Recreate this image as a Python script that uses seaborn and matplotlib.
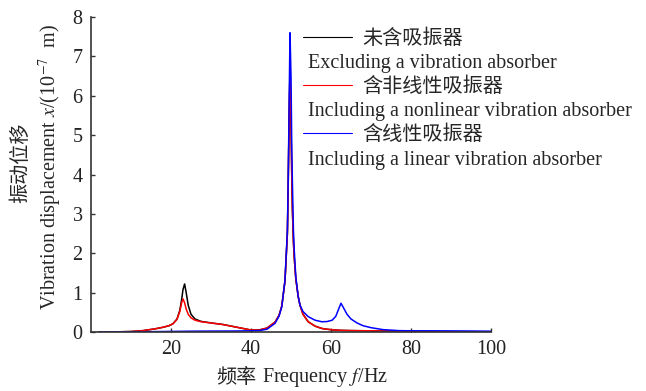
import numpy as np
import pandas as pd
import matplotlib
matplotlib.use('Agg')
import matplotlib.pyplot as plt
import seaborn as sns

# ---- data ----
freq = [2, 6, 10, 13, 16, 18, 19.5, 20.5, 21.5, 22.2, 22.7, 23.0, 23.4, 23.8, 24.3, 25, 26, 27.5,
        30, 33, 36, 38, 40, 42, 44, 46, 47, 47.7, 48.5, 49.1, 49.3, 49.5, 49.75, 50.0, 50.2, 50.35,
        50.6, 50.8, 51.2, 51.8, 52.25, 53, 54.3, 56, 57.7, 59, 60.3, 61.2, 61.9, 62.5, 63.1, 64, 65,
        66.5, 68, 70, 73, 77, 80, 85, 90, 95, 100]

x_none = [0.0, 0.003, 0.012, 0.035, 0.08, 0.12, 0.16, 0.21, 0.33, 0.55, 0.85, 1.08, 1.22, 1.0, 0.68,
          0.45, 0.33, 0.27, 0.23, 0.19, 0.13, 0.09, 0.05, 0.05, 0.1, 0.25, 0.42, 0.66, 1.3, 2.5, 3.7,
          5.2, 6.7, 5.3, 3.9, 3.1, 2.3, 1.9, 1.35, 0.9, 0.68, 0.45, 0.26, 0.15, 0.09, 0.07, 0.055,
          0.05, 0.045, 0.042, 0.04, 0.038, 0.036, 0.034, 0.032, 0.03, 0.027, 0.022, 0.015, 0.008,
          0.004, 0.002, 0.001]

x_nonlinear = [0.0, 0.003, 0.012, 0.035, 0.08, 0.12, 0.16, 0.21, 0.32, 0.52, 0.76, 0.84, 0.74, 0.58,
               0.45, 0.36, 0.3, 0.26, 0.23, 0.19, 0.13, 0.09, 0.05, 0.05, 0.1, 0.25, 0.42, 0.66, 1.3,
               2.5, 3.7, 5.2, 6.7, 5.3, 3.9, 3.1, 2.3, 1.9, 1.35, 0.9, 0.68, 0.45, 0.26, 0.15, 0.09,
               0.07, 0.055, 0.05, 0.045, 0.042, 0.04, 0.038, 0.036, 0.034, 0.032, 0.03, 0.027, 0.022,
               0.015, 0.008, 0.004, 0.002, 0.001]

x_linear = [0.0, 0.003, 0.005, 0.008, 0.01, 0.012, 0.014, 0.015, 0.016, 0.017, 0.017, 0.018, 0.018,
            0.019, 0.02, 0.02, 0.021, 0.022, 0.023, 0.024, 0.025, 0.028, 0.03, 0.035, 0.07, 0.22,
            0.4, 0.64, 1.32, 2.6, 3.86, 5.5, 7.6, 6.5, 4.6, 3.8, 2.6, 2.1, 1.4, 0.9, 0.68, 0.52,
            0.39, 0.3, 0.26, 0.265, 0.3, 0.4, 0.58, 0.73, 0.62, 0.45, 0.33, 0.23, 0.16, 0.11, 0.06,
            0.035, 0.03, 0.03, 0.028, 0.025, 0.02]

series_cn = ["未含吸振器", "含非线性吸振器", "含线性吸振器"]
series_en = ["Excluding a vibration absorber",
             "Including a nonlinear vibration absorber",
             "Including a linear vibration absorber"]
colors = ["black", "red", "blue"]
xticks = [20, 40, 60, 80, 100]
yticks = [0, 1, 2, 3, 4, 5, 6, 7, 8]

df = pd.concat([
    pd.DataFrame({"f": freq, "x": x_none, "case": series_cn[0]}),
    pd.DataFrame({"f": freq, "x": x_nonlinear, "case": series_cn[1]}),
    pd.DataFrame({"f": freq, "x": x_linear, "case": series_cn[2]}),
])

sns.set_style("ticks")
plt.rcParams['font.family'] = ['Liberation Serif', 'Noto Sans CJK SC']
plt.rcParams['mathtext.fontset'] = 'stix'
FS = 14.5

fig = plt.figure(figsize=(6.46, 3.91), dpi=100)
ax = fig.add_axes([91 / 646, 1 - 332 / 391, 400 / 646, 315 / 391])

sns.lineplot(data=df, x="f", y="x", hue="case", hue_order=series_cn,
             palette=colors, linewidth=1.1, sort=False, legend=False, ax=ax)

ax.set_xlim(0, 100)
ax.set_ylim(0, 8)
ax.set_xticks(xticks)
ax.set_yticks(yticks)
sns.despine(ax=ax)
for s in ["left", "bottom"]:
    ax.spines[s].set_color("#333333")
    ax.spines[s].set_linewidth(1.2)
ax.tick_params(direction="in", length=3, width=1, color="#333333",
               labelsize=FS, labelcolor="#222222", pad=6)

# x label: Chinese part as plain text (mathtext has no CJK glyphs)
ax.set_xlabel("Frequency $f$/Hz", fontsize=FS, ha="left", va="center")
ax.xaxis.set_label_coords(0.4275, -0.146)
ax.text(0.4125, -0.146, "频率", fontsize=FS, ha="right", va="center",
        transform=ax.transAxes)

ax.set_ylabel("Vibration displacement $x$/(10$^{-7}$  m)", fontsize=FS, va="center")
ax.yaxis.set_label_coords(-0.1025, 0.524)
ax.text(-0.175, 0.537, "振动位移", rotation=90, fontsize=FS, ha="center", va="center",
        transform=ax.transAxes)

leg = ax.legend(handles=ax.lines[:3], labels=series_cn, loc="upper left",
                bbox_to_anchor=(0.53, 0.959), frameon=False, fontsize=FS,
                borderpad=0, borderaxespad=0, handlelength=2.45, handletextpad=0.5,
                labelspacing=1.4)
for h in leg.legend_handles:
    h.set_linewidth(0.8)

for yy, txt in zip([0.851, 0.699, 0.546], series_en):
    ax.text(0.5425, yy, txt, fontsize=FS, ha="left", va="center", transform=ax.transAxes)

fig.savefig("out.png", dpi=100)
